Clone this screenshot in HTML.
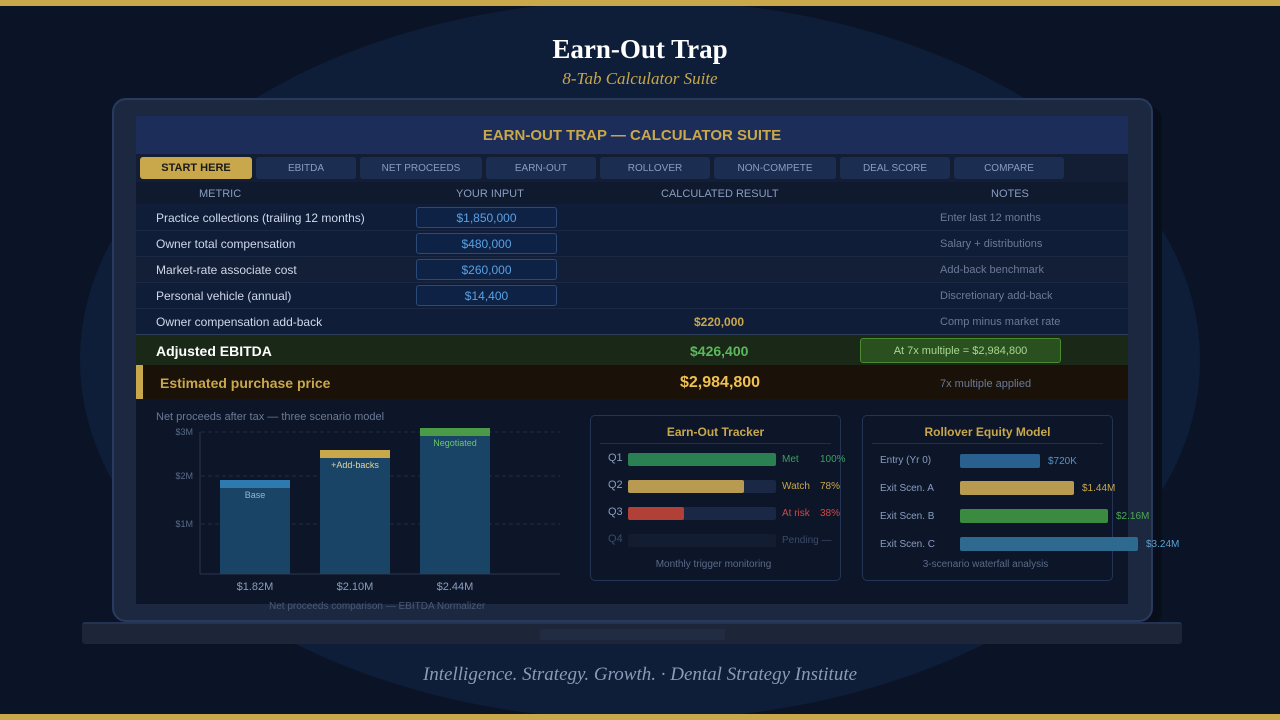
<!DOCTYPE html>
<html><head><meta charset="utf-8"><style>
*{margin:0;padding:0;box-sizing:border-box}
body{width:1280px;height:720px;background:#0b1426;position:relative;overflow:hidden;font-family:"Liberation Sans",sans-serif}
.a{position:absolute}
.t{position:absolute;white-space:nowrap}
</style></head><body>
<div class="a" style="left:80px;top:0;width:1120px;height:720px;border-radius:50%;background:#0e1d38"></div>
<div class="a" style="left:0;top:0;width:1280px;height:6px;background:#c9a84c"></div>
<div class="a" style="left:0;top:714px;width:1280px;height:6px;background:#c9a84c"></div>
<div class="t" style="left:0;width:1280px;top:34px;text-align:center;font:bold 27px 'Liberation Serif',serif;color:#fff">Earn-Out Trap</div>
<div class="t" style="left:0;width:1280px;top:69px;text-align:center;font:italic 17px 'Liberation Serif',serif;color:#c9a84c">8-Tab Calculator Suite</div>
<div class="t" style="left:0;width:1280px;top:664px;text-align:center;font:italic 19px 'Liberation Serif',serif;color:#8a9ab8">Intelligence. Strategy. Growth. · Dental Strategy Institute</div>

<!-- laptop -->
<div class="a" style="left:122px;top:106px;width:1040px;height:520px;background:#080e1a;border-radius:14px"></div>
<div class="a" style="left:112px;top:98px;width:1041px;height:524px;background:#1c2740;border:2px solid #2a3a5e;border-radius:14px"></div>
<div class="a" style="left:82px;top:622px;width:1100px;height:22px;background:#1c2638;border-radius:3px;border-top:2px solid #243352"></div>
<div class="a" style="left:540px;top:629px;width:185px;height:11px;background:#212c42;border-radius:2px"></div>

<!-- screen -->
<div class="a" style="left:136px;top:116px;width:992px;height:488px;background:#0c1628"></div>
<div class="a" style="left:136px;top:116px;width:992px;height:38px;background:#1b2d58"></div>
<div class="t" style="left:136px;width:992px;top:127px;text-align:center;font:bold 15px 'Liberation Sans';color:#c9a84c">EARN-OUT TRAP — CALCULATOR SUITE</div>
<div class="a" style="left:136px;top:154px;width:992px;height:28px;background:#131e34"></div>
<div class="a" style="left:140px;top:157px;width:112px;height:22px;background:#c9a84c;border-radius:3px;font:bold 11px 'Liberation Sans';color:#1a1a1a;text-align:center;line-height:23px">START HERE</div>
<div class="a" style="left:256px;top:157px;width:100px;height:22px;background:#1c2d52;border-radius:3px;font:10px 'Liberation Sans';color:#8a9cc0;text-align:center;line-height:23px">EBITDA</div>
<div class="a" style="left:360px;top:157px;width:122px;height:22px;background:#1c2d52;border-radius:3px;font:10px 'Liberation Sans';color:#8a9cc0;text-align:center;line-height:23px">NET PROCEEDS</div>
<div class="a" style="left:486px;top:157px;width:110px;height:22px;background:#1c2d52;border-radius:3px;font:10px 'Liberation Sans';color:#8a9cc0;text-align:center;line-height:23px">EARN-OUT</div>
<div class="a" style="left:600px;top:157px;width:110px;height:22px;background:#1c2d52;border-radius:3px;font:10px 'Liberation Sans';color:#8a9cc0;text-align:center;line-height:23px">ROLLOVER</div>
<div class="a" style="left:714px;top:157px;width:122px;height:22px;background:#1c2d52;border-radius:3px;font:10px 'Liberation Sans';color:#8a9cc0;text-align:center;line-height:23px">NON-COMPETE</div>
<div class="a" style="left:840px;top:157px;width:110px;height:22px;background:#1c2d52;border-radius:3px;font:10px 'Liberation Sans';color:#8a9cc0;text-align:center;line-height:23px">DEAL SCORE</div>
<div class="a" style="left:954px;top:157px;width:110px;height:22px;background:#1c2d52;border-radius:3px;font:10px 'Liberation Sans';color:#8a9cc0;text-align:center;line-height:23px">COMPARE</div>

<div class="a" style="left:136px;top:182px;width:992px;height:22px;background:#0f1a2e"></div>
<div class="t" style="left:199px;top:188px;font:11px 'Liberation Sans';color:#8a9cc0">METRIC</div>
<div class="t" style="left:456px;top:188px;font:11px 'Liberation Sans';color:#8a9cc0">YOUR INPUT</div>
<div class="t" style="left:661px;top:188px;font:11px 'Liberation Sans';color:#8a9cc0">CALCULATED RESULT</div>
<div class="t" style="left:991px;top:188px;font:11px 'Liberation Sans';color:#8a9cc0">NOTES</div>

<div class="a" style="left:136px;top:204px;width:992px;height:130px;background:#0f1d38"></div>
<div class="a" style="left:136px;top:256px;width:992px;height:26px;background:#131f36"></div>
<div class="a" style="left:136px;top:230px;width:992px;height:1px;background:#1a2844"></div>
<div class="a" style="left:136px;top:256px;width:992px;height:1px;background:#1a2844"></div>
<div class="a" style="left:136px;top:282px;width:992px;height:1px;background:#1a2844"></div>
<div class="a" style="left:136px;top:308px;width:992px;height:1px;background:#1a2844"></div>
<div class="a" style="left:136px;top:334px;width:992px;height:1px;background:#2c3e5c"></div>

<div class="t" style="left:156px;top:211px;font:12px 'Liberation Sans';color:#d0d8e8">Practice collections (trailing 12 months)</div>
<div class="t" style="left:156px;top:237px;font:12px 'Liberation Sans';color:#d0d8e8">Owner total compensation</div>
<div class="t" style="left:156px;top:263px;font:12px 'Liberation Sans';color:#d0d8e8">Market-rate associate cost</div>
<div class="t" style="left:156px;top:289px;font:12px 'Liberation Sans';color:#d0d8e8">Personal vehicle (annual)</div>
<div class="t" style="left:156px;top:315px;font:12px 'Liberation Sans';color:#d0d8e8">Owner compensation add-back</div>

<div class="a" style="left:416px;top:207px;width:141px;height:21px;background:#0e2246;border:1px solid #2a4a7a;border-radius:3px;font:12px 'Liberation Sans';color:#5aa0e0;text-align:center;line-height:20px">$1,850,000</div>
<div class="a" style="left:416px;top:233px;width:141px;height:21px;background:#0e2246;border:1px solid #2a4a7a;border-radius:3px;font:12px 'Liberation Sans';color:#5aa0e0;text-align:center;line-height:20px">$480,000</div>
<div class="a" style="left:416px;top:259px;width:141px;height:21px;background:#0e2246;border:1px solid #2a4a7a;border-radius:3px;font:12px 'Liberation Sans';color:#5aa0e0;text-align:center;line-height:20px">$260,000</div>
<div class="a" style="left:416px;top:285px;width:141px;height:21px;background:#0e2246;border:1px solid #2a4a7a;border-radius:3px;font:12px 'Liberation Sans';color:#5aa0e0;text-align:center;line-height:20px">$14,400</div>
<div class="t" style="left:694px;top:315px;font:bold 12px 'Liberation Sans';color:#c9a84c">$220,000</div>

<div class="t" style="left:940px;top:212px;font:11px 'Liberation Sans';color:#6a7a98">Enter last 12 months</div>
<div class="t" style="left:940px;top:238px;font:11px 'Liberation Sans';color:#6a7a98">Salary + distributions</div>
<div class="t" style="left:940px;top:264px;font:11px 'Liberation Sans';color:#6a7a98">Add-back benchmark</div>
<div class="t" style="left:940px;top:290px;font:11px 'Liberation Sans';color:#6a7a98">Discretionary add-back</div>
<div class="t" style="left:940px;top:316px;font:11px 'Liberation Sans';color:#6a7a98">Comp minus market rate</div>

<div class="a" style="left:136px;top:335px;width:992px;height:30px;background:#1a2818"></div>
<div class="t" style="left:156px;top:343px;font:bold 14px 'Liberation Sans';color:#fff">Adjusted EBITDA</div>
<div class="t" style="left:690px;top:343px;font:bold 14px 'Liberation Sans';color:#5cb85c">$426,400</div>
<div class="a" style="left:860px;top:338px;width:201px;height:25px;background:#2a5020;border:1px solid #4a8a30;border-radius:3px;font:11px 'Liberation Sans';color:#a8d890;text-align:center;line-height:24px">At 7x multiple = $2,984,800</div>

<div class="a" style="left:136px;top:365px;width:992px;height:34px;background:#1a1208"></div>
<div class="a" style="left:136px;top:365px;width:7px;height:34px;background:#c9a84c"></div>
<div class="t" style="left:160px;top:375px;font:bold 14px 'Liberation Sans';color:#c9a84c">Estimated purchase price</div>
<div class="t" style="left:680px;top:374px;font:bold 16px 'Liberation Sans';color:#f0c050">$2,984,800</div>
<div class="t" style="left:940px;top:378px;font:11px 'Liberation Sans';color:#6a7a98">7x multiple applied</div>

<!-- bar chart -->
<div class="t" style="left:156px;top:411px;font:11px 'Liberation Sans';color:#6a7a98">Net proceeds after tax — three scenario model</div>
<svg class="a" style="left:140px;top:420px" width="440" height="200">
<g stroke="#1e2c44" stroke-dasharray="4,3"><line x1="61" y1="12" x2="420" y2="12"/><line x1="61" y1="56" x2="420" y2="56"/><line x1="61" y1="104" x2="420" y2="104"/></g>
<line x1="60" y1="12" x2="60" y2="154" stroke="#2a3650"/><line x1="60" y1="154" x2="420" y2="154" stroke="#2a3650"/>
<g font-family="Liberation Sans" font-size="9" fill="#5a6a88" text-anchor="end"><text x="53" y="15">$3M</text><text x="53" y="59">$2M</text><text x="53" y="107">$1M</text></g>
<rect x="80" y="60" width="70" height="94" fill="#1a4466"/><rect x="80" y="60" width="70" height="8" fill="#2e7ab0"/>
<rect x="180" y="30" width="70" height="124" fill="#1a4466"/><rect x="180" y="30" width="70" height="8" fill="#c9a84c"/>
<rect x="280" y="8" width="70" height="146" fill="#1a4466"/><rect x="280" y="8" width="70" height="8" fill="#4a9a48"/>
<g font-family="Liberation Sans" font-size="9" text-anchor="middle"><text x="115" y="78" fill="#8ab8d8">Base</text><text x="215" y="48" fill="#e0d4a0">+Add-backs</text><text x="315" y="26" fill="#6ac86a">Negotiated</text></g>
<g font-family="Liberation Sans" font-size="11" fill="#8a9cc0" text-anchor="middle"><text x="115" y="170">$1.82M</text><text x="215" y="170">$2.10M</text><text x="315" y="170">$2.44M</text></g>
</svg>
<div class="t" style="left:269px;top:601px;font:10px 'Liberation Sans';color:#4a5a78">Net proceeds comparison — EBITDA Normalizer</div>

<!-- earn-out tracker -->
<div class="a" style="left:590px;top:415px;width:251px;height:166px;border:1px solid #233456;border-radius:5px;background:#0c1628"></div>
<div class="t" style="left:590px;width:251px;top:425px;text-align:center;font:bold 12px 'Liberation Sans';color:#c9a84c">Earn-Out Tracker</div>
<div class="a" style="left:600px;top:443px;width:231px;height:1px;background:#1e2e4c"></div>
<div class="t" style="left:608px;top:452px;font:11px 'Liberation Sans';color:#8a9cc0">Q1</div>
<div class="a" style="left:628px;top:453px;width:148px;height:13px;background:#2a8050;border-radius:2px"></div>
<div class="t" style="left:782px;top:454px;font:10px 'Liberation Sans';color:#3aa060">Met</div>
<div class="t" style="left:820px;top:454px;font:10px 'Liberation Sans';color:#3aa060">100%</div>
<div class="t" style="left:608px;top:479px;font:11px 'Liberation Sans';color:#8a9cc0">Q2</div>
<div class="a" style="left:628px;top:480px;width:148px;height:13px;background:#1a2846;border-radius:2px"></div>
<div class="a" style="left:628px;top:480px;width:116px;height:13px;background:#b89a50;border-radius:2px"></div>
<div class="t" style="left:782px;top:481px;font:10px 'Liberation Sans';color:#c9a84c">Watch</div>
<div class="t" style="left:820px;top:481px;font:10px 'Liberation Sans';color:#c9a84c">78%</div>
<div class="t" style="left:608px;top:506px;font:11px 'Liberation Sans';color:#8a9cc0">Q3</div>
<div class="a" style="left:628px;top:507px;width:148px;height:13px;background:#1a2846;border-radius:2px"></div>
<div class="a" style="left:628px;top:507px;width:56px;height:13px;background:#b04038;border-radius:2px"></div>
<div class="t" style="left:782px;top:508px;font:10px 'Liberation Sans';color:#d04848">At risk</div>
<div class="t" style="left:820px;top:508px;font:10px 'Liberation Sans';color:#d04848">38%</div>
<div class="t" style="left:608px;top:533px;font:11px 'Liberation Sans';color:#3a4a66">Q4</div>
<div class="a" style="left:628px;top:534px;width:148px;height:13px;background:#121d32;border-radius:2px"></div>
<div class="t" style="left:782px;top:535px;font:10px 'Liberation Sans';color:#3a4a66">Pending —</div>
<div class="t" style="left:588px;width:251px;top:559px;text-align:center;font:10px 'Liberation Sans';color:#5a6a88">Monthly trigger monitoring</div>

<!-- rollover -->
<div class="a" style="left:862px;top:415px;width:251px;height:166px;border:1px solid #233456;border-radius:5px;background:#0c1628"></div>
<div class="t" style="left:862px;width:251px;top:425px;text-align:center;font:bold 12px 'Liberation Sans';color:#c9a84c">Rollover Equity Model</div>
<div class="a" style="left:872px;top:443px;width:231px;height:1px;background:#1e2e4c"></div>
<div class="t" style="left:880px;top:455px;font:10px 'Liberation Sans';color:#8a9cc0">Entry (Yr 0)</div>
<div class="a" style="left:960px;top:454px;width:80px;height:14px;background:#2a6090;border-radius:2px"></div>
<div class="t" style="left:1048px;top:456px;font:10px 'Liberation Sans';color:#5a90c0">$720K</div>
<div class="t" style="left:880px;top:483px;font:10px 'Liberation Sans';color:#8a9cc0">Exit Scen. A</div>
<div class="a" style="left:960px;top:481px;width:114px;height:14px;background:#b89a50;border-radius:2px"></div>
<div class="t" style="left:1082px;top:483px;font:10px 'Liberation Sans';color:#c9a84c">$1.44M</div>
<div class="t" style="left:880px;top:511px;font:10px 'Liberation Sans';color:#8a9cc0">Exit Scen. B</div>
<div class="a" style="left:960px;top:509px;width:148px;height:14px;background:#3a8a40;border-radius:2px"></div>
<div class="t" style="left:1116px;top:511px;font:10px 'Liberation Sans';color:#4aaa50">$2.16M</div>
<div class="t" style="left:880px;top:539px;font:10px 'Liberation Sans';color:#8a9cc0">Exit Scen. C</div>
<div class="a" style="left:960px;top:537px;width:178px;height:14px;background:#2e6a90;border-radius:2px"></div>
<div class="t" style="left:1146px;top:539px;font:10px 'Liberation Sans';color:#5aa0d0">$3.24M</div>
<div class="t" style="left:860px;width:251px;top:559px;text-align:center;font:10px 'Liberation Sans';color:#5a6a88">3-scenario waterfall analysis</div>
</body></html>
